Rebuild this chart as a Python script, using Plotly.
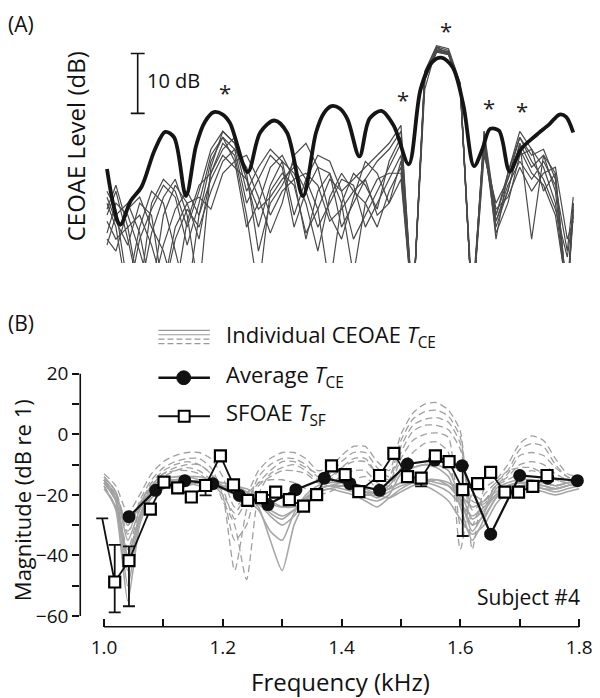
import plotly.graph_objects as go

# The page body has an 8px margin; the figure is sized/offset to compensate.
OFF = 8
W, H = 600 - OFF, 698 - OFF
FONT = "Open Sans"

def PX(x):
    return (x - OFF) / W

def PY(y):
    return 1 - (y - OFF) / H

# ---------------- Panel A data (CEOAE level, arbitrary dB offset) ----------------
a_grid = [1.005, 1.02, 1.04, 1.06, 1.08, 1.10, 1.12, 1.14, 1.16, 1.18, 1.20, 1.22, 1.24, 1.26,
          1.28, 1.30, 1.32, 1.34, 1.36, 1.38, 1.40, 1.42, 1.44, 1.46, 1.48, 1.50, 1.52, 1.54,
          1.56, 1.58, 1.60, 1.62, 1.64, 1.66, 1.68, 1.70, 1.72, 1.74, 1.76, 1.78, 1.79]
a_gray_1 = [8, 12, 4, -5, 10, 14, 12, 6, 12, 19, 22, 20, 12, 16, 19, 17, 8, 14, 18, 17, 12, 14, 16, 18, 20, 23, -8, 29, 36, 35, 29, -8, 22, 8, 14, 21, 18, 19, 14, -6, 10]
a_gray_2 = [12, 9, -4, 6, 12, 10, 2, -6, 8, 17, 21, 19, 10, 14, 18, 16, 6, 12, 16, 15, 6, 10, 14, 17, 19, 22, -8, 31.5, 35.8, 35.2, 29.5, -8, 21, 6, 12, 20, 4, 18, 12, -6, 9]
a_gray_3 = [5, 10, 8, 2, -5, 8, 13, 10, 4, 15, 20, 18, 8, -5, 12, 15, 13, 5, 9, 14, 12, 4, 8, 12, 16, 20, -8, 31, 35.5, 35, 29, -6, 20, 5, 10, 18, 19, 16, 10, -6, 8]
a_gray_4 = [10, 6, -6, 4, 9, 13, 11, 3, 10, 18, 21, 17, 6, 10, 16, 18, 14, 4, 12, 15, 10, -2, 10, 14, 15, 15, -8, 30.5, 35.2, 34.8, 29, -8, 19, 7, 13, 17, 14, 17, 13, 2, 11]
a_gray_5 = [3, 8, 10, 5, -5, 3, 9, 12, 8, 14, 18, 16, 14, 9, 11, 14, 16, 12, 6, 10, 14, 13, 6, 10, 14, 18, -8, 31, 35.6, 35.3, 29.5, -8, 20, 9, 11, 16, 12, 15, 16, 4, 7]
a_gray_6 = [7, 4, 6, -5, 5, 11, 14, 8, -5, 16, 22, 20, 14, 6, 13, 17, 15, 10, 2, 11, 15, 12, 10, 6, 12, 16, -8, 32, 36.3, 35.8, 30, -8, 22, 4, 15, 22, 19, 12, 15, -6, 9]
a_gray_7 = [9, 13, 6, 8, 3, -4, 6, 10, 11, 9, 15, 17, 18, 14, 8, 12, 14, 15, 13, 7, 9, 12, 14, 8, 10, 14, -8, 30.8, 35.4, 35, 29.2, -8, 18, 10, 14, 19, 15, 13, 8, -5, 10]
a_gray_8 = [4, 2, 9, 11, 6, 2, -5, 7, 13, 15, 19, 21, 15, 2, 10, 13, 17, 14, 9, -4, 10, 15, 13, 9, 17, 21, -8, 31.8, 36.1, 35.5, 29.8, -8, 21, 7, 12, 20, 16, 18, 15, -6, 10]
a_gray_9 = [11, 7, 3, 10, 8, -5, 4, 9, 6, 12, 17, 19, 16, 11, 5, 10, 18, 20, 16, 8, 4, 11, 17, 15, 10, 17, -8, 30.6, 35.3, 34.9, 29, -8, 20, 8, 15, 21, 17, 14, 9, 1, 8]

a_black_x = [1.005, 1.027, 1.045, 1.063, 1.085, 1.103, 1.118, 1.138, 1.155, 1.170, 1.185, 1.200,
             1.212, 1.242, 1.263, 1.287, 1.308, 1.335, 1.357, 1.370, 1.383, 1.397, 1.410, 1.430,
             1.447, 1.467, 1.488, 1.513, 1.533, 1.552, 1.568, 1.587, 1.605, 1.623, 1.637, 1.650,
             1.665, 1.683, 1.702, 1.727, 1.750, 1.767, 1.778, 1.790]
a_black_y = [15.7, 6.4, 10.4, 12.7, 18.8, 21.9, 21.0, 11.2, 19.6, 23.6, 25.2, 24.8,
             23.4, 15.2, 21.8, 23.8, 21.8, 11.2, 21.8, 25.0, 26.2, 25.8, 24.0, 17.8,
             24.1, 25.4, 22.9, 16.5, 29.0, 33.5, 34.3, 32.7, 26.4, 16.2, 19.0, 22.4,
             22.1, 15.3, 19.0, 21.3, 23.2, 24.8, 24.4, 21.8]

a_star_x = [1.203, 1.503, 1.576, 1.648, 1.703]
a_star_y = [28.5, 27.4, 38.9, 26.1, 25.5]

# ---------------- Panel B data ----------------
b_grid = [1.00, 1.02, 1.04, 1.06, 1.08, 1.10, 1.12, 1.14, 1.16, 1.18, 1.20, 1.22, 1.24, 1.26,
          1.28, 1.30, 1.32, 1.34, 1.36, 1.38, 1.40, 1.42, 1.44, 1.46, 1.48, 1.50, 1.52, 1.54,
          1.56, 1.58, 1.60, 1.62, 1.64, 1.66, 1.68, 1.70, 1.72, 1.74, 1.76, 1.78, 1.80]
b_solid_1 = [-15, -22, -45, -28, -19, -16, -15, -15, -16, -16, -17, -18, -19, -21, -23, -24, -23, -21, -18, -17, -17, -18, -20, -20, -18, -16, -15, -15, -16, -17, -20, -24, -22, -19, -17, -16, -16, -17, -18, -17, -16]
b_solid_2 = [-17, -25, -55, -30, -20, -17, -16, -16, -15, -15, -16, -17, -19, -22, -26, -28, -25, -21, -18, -17, -16, -17, -19, -21, -19, -17, -16, -16, -15, -16, -19, -28, -25, -20, -17, -16, -17, -18, -19, -18, -17]
b_solid_3 = [-14, -19, -35, -25, -18, -15, -14, -14, -15, -16, -18, -20, -22, -25, -32, -35, -26, -20, -17, -16, -16, -18, -21, -22, -20, -13, -11, -10, -10, -12, -21, -32, -26, -18, -16, -15, -15, -16, -17, -16, -15]
b_solid_4 = [-16, -21, -40, -27, -19, -16, -15, -16, -17, -18, -18, -19, -20, -24, -35, -45, -30, -22, -18, -17, -18, -19, -20, -19, -17, -12, -11, -10, -11, -14, -24, -35, -28, -21, -18, -17, -17, -18, -18, -17, -16]
b_solid_5 = [-18, -24, -50, -29, -21, -18, -17, -17, -16, -16, -16, -17, -18, -20, -22, -24, -24, -22, -19, -18, -17, -17, -18, -20, -21, -19, -17, -16, -17, -19, -23, -27, -24, -20, -18, -17, -18, -19, -20, -19, -18]
b_solid_6 = [-15, -20, -30, -23, -17, -15, -14, -14, -14, -15, -17, -19, -21, -23, -27, -30, -27, -22, -19, -18, -19, -20, -22, -24, -21, -18, -16, -15, -15, -17, -22, -30, -27, -21, -17, -16, -16, -16, -17, -16, -15]
b_solid_7 = [-16, -22, -42, -27, -19, -16, -15, -15, -16, -17, -17, -18, -20, -22, -25, -27, -25, -21, -18, -17, -17, -18, -19, -19, -18, -16, -16, -17, -19, -22, -28, -33, -30, -23, -19, -17, -17, -17, -18, -17, -16]
b_dash_1 = [-13, -17, -26, -20, -13, -9, -7, -6, -6, -8, -14, -24, -20, -12, -8, -6, -6, -8, -12, -11, -7, -4, -4, -9, -12, 0, 7, 10, 10.5, 8, 1, -38, -18, -15, -10, -3, -0.5, -2, -8, -13, -14]
b_dash_2 = [-15, -20, -33, -22, -15, -11, -9, -8, -8, -11, -20, -45, -25, -14, -10, -8, -8, -10, -14, -13, -9, -6, -6, -11, -14, -2, 5, 7.5, 8, 6, -1, -30, -20, -16, -12, -5, -3, -4, -10, -14, -15]
b_dash_3 = [-16, -22, -38, -25, -17, -13, -11, -10, -10, -13, -22, -30, -48, -20, -13, -11, -10, -12, -15, -15, -11, -8, -8, -13, -15, -4, 3, 5, 5.5, 4, -3, -25, -22, -17, -13, -7, -6, -7, -11, -14, -15]
b_dash_4 = [-14, -19, -30, -23, -16, -12, -10, -9, -10, -13, -18, -28, -22, -16, -12, -9, -9, -11, -13, -14, -11, -9, -9, -13, -16, -6, 1, 3, 3, 1.5, -5, -22, -23, -17, -14, -10, -9, -10, -13, -15, -16]
b_dash_5 = [-17, -24, -40, -27, -18, -14, -12, -11, -12, -15, -20, -35, -30, -17, -14, -12, -12, -13, -16, -16, -14, -12, -12, -16, -17, -8, -2, 0, 0.5, -1, -30, -20, -22, -17, -15, -13, -12, -13, -15, -16, -16]
b_dash_6 = [-15, -21, -32, -24, -17, -13, -12, -12, -13, -16, -20, -26, -20, -16, -15, -15, -16, -18, -20, -19, -17, -15, -14, -18, -18, -11, -6, -3, -2.5, -6, -38, -20, -24, -16, -12, -11, -11, -13, -15, -16, -17]

avg_x = [1.042, 1.087, 1.136, 1.183, 1.228, 1.276, 1.323, 1.371, 1.414, 1.464, 1.511, 1.557,
         1.603, 1.651, 1.700, 1.747, 1.797]
avg_y = [-27.2, -18.5, -15.3, -16.3, -20.2, -23.2, -18.3, -14.5, -16.3, -18.5, -9.8, -8.5,
         -10.4, -33.0, -13.6, -14.5, -15.3]

sf_x = [0.997, 1.018, 1.042, 1.078, 1.101, 1.124, 1.147, 1.171, 1.196, 1.218, 1.242, 1.265,
        1.289, 1.312, 1.336, 1.358, 1.383, 1.406, 1.429, 1.464, 1.488, 1.511, 1.534, 1.558,
        1.581, 1.604, 1.629, 1.651, 1.675, 1.698, 1.722, 1.746]
sf_y = [-27.8, -48.8, -41.7, -24.7, -15.8, -17.7, -20.7, -16.9, -7.1, -16.7, -21.8, -20.9,
        -19.1, -21.6, -23.7, -19.9, -10.4, -13.3, -18.9, -13.6, -6.3, -14.0, -14.5, -7.1,
        -9.0, -18.3, -16.3, -12.6, -19.1, -19.1, -17.2, -13.6]
sf_err_plus = [0, 12.3, 4.7, 0, 0, 0, 0, 0, 0, 0, 0, 0, 0, 0, 0, 0, 0, 0, 0, 0, 0, 0, 0, 0,
               0, 8.0, 0, 0, 0, 0, 0, 0]
sf_err_minus = [0, 10.0, 15.1, 0, 0, 0, 0, 3.3, 0, 0, 0, 0, 0, 0, 0, 0, 0, 0, 0, 0, 0, 0, 2.7, 0,
                0, 15.3, 0, 0, 0, 0, 0, 0]

x_ticks = [1.0, 1.2, 1.4, 1.6, 1.8]
x_tick_labels = ["1.0", "1.2", "1.4", "1.6", "1.8"]
x_minor = [1.1, 1.3, 1.5, 1.7]
y_ticks = [-60, -40, -20, 0, 20]
y_tick_labels = ["\u221260", "\u221240", "\u221220", "0", "20"]
y_minor = [-50, -30, -10, 10]

fig = go.Figure()

# Panel A traces
for g in [a_gray_1, a_gray_2, a_gray_3, a_gray_4, a_gray_5, a_gray_6, a_gray_7, a_gray_8, a_gray_9]:
    fig.add_trace(go.Scatter(x=a_grid, y=g, mode="lines", xaxis="x2", yaxis="y2",
                             line=dict(color="#4a4a4a", width=1.2), showlegend=False, hoverinfo="skip"))
fig.add_trace(go.Scatter(x=a_black_x, y=a_black_y, mode="lines", xaxis="x2", yaxis="y2",
                         line=dict(color="#151515", width=3.8, shape="spline", smoothing=0.9),
                         showlegend=False, hoverinfo="skip"))

# Panel B gray lines
for s in [b_solid_1, b_solid_2, b_solid_3, b_solid_4, b_solid_5, b_solid_6, b_solid_7]:
    fig.add_trace(go.Scatter(x=b_grid, y=s, mode="lines",
                             line=dict(color="#a6a6a6", width=1.6, shape="spline", smoothing=0.6),
                             showlegend=False, hoverinfo="skip"))
for d in [b_dash_1, b_dash_2, b_dash_3, b_dash_4, b_dash_5, b_dash_6]:
    fig.add_trace(go.Scatter(x=b_grid, y=d, mode="lines",
                             line=dict(color="#a0a0a0", width=1.3, dash="7px,4px", shape="spline", smoothing=0.6),
                             showlegend=False, hoverinfo="skip"))

fig.add_trace(go.Scatter(x=avg_x, y=avg_y, mode="lines+markers",
                         line=dict(color="#111", width=2.2),
                         marker=dict(symbol="circle", size=13, color="#111", opacity=1),
                         showlegend=False, hoverinfo="skip", cliponaxis=False))
sf_sizes = [0] + [11] * (len(sf_x) - 1)
fig.add_trace(go.Scatter(x=sf_x, y=sf_y, mode="lines+markers",
                         line=dict(color="#111", width=1.8),
                         marker=dict(symbol="square", size=sf_sizes, color="white", opacity=1,
                                     line=dict(color="#000", width=2.2)),
                         error_y=dict(type="data", symmetric=False, array=sf_err_plus,
                                      arrayminus=sf_err_minus, color="#111", thickness=1.8, width=6),
                         showlegend=False, hoverinfo="skip", cliponaxis=False))

# axes geometry (pixels in the 600x698 page)
bx0, bx1 = 81, 592
by0, by1 = 365, 628
ax0, ax1 = 105, 585
ay0, ay1 = 17.6, 260

fig.update_layout(
    width=W, height=H, margin=dict(l=0, r=0, t=0, b=0),
    paper_bgcolor="white", plot_bgcolor="rgba(0,0,0,0)",
    font=dict(family=FONT, color="#111"),
    xaxis=dict(domain=[PX(bx0), PX(bx1)], range=[0.96, 1.8117], showline=False, showgrid=False,
               zeroline=False, tickmode="array", tickvals=x_ticks, ticktext=x_tick_labels,
               ticks="inside", ticklen=8, tickwidth=1.6, tickcolor="#111", ticklabelstandoff=7,
               tickfont=dict(family=FONT, size=19, color="#111"),
               minor=dict(tickmode="array", tickvals=x_minor, ticks="inside", ticklen=8,
                          tickwidth=1.6, tickcolor="#111", showgrid=False),
               anchor="y"),
    yaxis=dict(domain=[PY(by1), PY(by0)], range=[-63.6, 22.3], showline=False, showgrid=False,
               zeroline=False, tickmode="array", tickvals=y_ticks, ticktext=y_tick_labels,
               ticks="outside", ticklen=7, tickwidth=1.6, tickcolor="#111",
               tickfont=dict(family=FONT, size=19, color="#111"),
               minor=dict(tickmode="array", tickvals=y_minor, ticks="outside", ticklen=7,
                          tickwidth=1.6, tickcolor="#111", showgrid=False),
               anchor="x"),
    xaxis2=dict(domain=[PX(ax0), PX(ax1)], range=[1.0, 1.8], visible=False, anchor="y2"),
    yaxis2=dict(domain=[PY(ay1), PY(ay0)], range=[0, 40], visible=False, anchor="x2"),
)

shapes = []
# panel B axis lines
shapes.append(dict(type="line", xref="x domain", yref="y", x0=0, x1=0, y0=-60, y1=20,
                   line=dict(color="#111", width=1.6)))
shapes.append(dict(type="line", xref="x", yref="y domain", x0=1.0, x1=1.8, y0=0, y1=0,
                   line=dict(color="#111", width=1.6)))
# panel A scale bar (10 dB)
shapes.append(dict(type="line", xref="x2", yref="y2", x0=1.0567, x1=1.0567, y0=25.0, y1=35.0,
                   line=dict(color="#111", width=1.6)))
for yv in [25.0, 35.0]:
    shapes.append(dict(type="line", xref="x2", yref="y2", x0=1.0450, x1=1.0684, y0=yv, y1=yv,
                       line=dict(color="#111", width=1.6)))
# legend samples
for yy in [328, 332.5]:
    shapes.append(dict(type="line", xref="paper", yref="paper", x0=PX(160), x1=PX(212),
                       y0=PY(yy), y1=PY(yy), line=dict(color="#999", width=1.2)))
for yy in [337, 341.5]:
    shapes.append(dict(type="line", xref="paper", yref="paper", x0=PX(160), x1=PX(212),
                       y0=PY(yy), y1=PY(yy), line=dict(color="#999", width=1.2, dash="6px,3px")))
shapes.append(dict(type="line", xref="paper", yref="paper", x0=PX(160), x1=PX(212),
                   y0=PY(376), y1=PY(376), line=dict(color="#111", width=2.4)))
shapes.append(dict(type="circle", xref="paper", yref="paper", x0=PX(178.5), x1=PX(192.5),
                   y0=PY(383), y1=PY(369), fillcolor="#111", line=dict(color="#111", width=1)))
shapes.append(dict(type="line", xref="paper", yref="paper", x0=PX(160), x1=PX(212),
                   y0=PY(415), y1=PY(415), line=dict(color="#111", width=2.0)))
shapes.append(dict(type="rect", xref="paper", yref="paper", x0=PX(180.5), x1=PX(191.5),
                   y0=PY(420.5), y1=PY(409.5), fillcolor="white", line=dict(color="#000", width=2.0)))
fig.update_layout(shapes=shapes)

ann = []
def add_text(x, y, text, size, xanchor="left", angle=0, yanchor="middle"):
    ann.append(dict(x=PX(x), y=PY(y), xref="paper", yref="paper", text=text, showarrow=False,
                    xanchor=xanchor, yanchor=yanchor, textangle=angle,
                    font=dict(family=FONT, size=size, color="#111")))

def add_data_text(x, y, text, size):
    ann.append(dict(x=x, y=y, xref="x2", yref="y2", text=text, showarrow=False,
                    xanchor="center", yanchor="middle",
                    font=dict(family=FONT, size=size, color="#222")))

for sx, sy in zip(a_star_x, a_star_y):
    add_data_text(sx, sy, "*", 22)

add_text(6, 18, "(A)", 21)
add_text(6, 321, "(B)", 21)
add_text(76.5, 142, "CEOAE Level (dB)", 24, xanchor="center", angle=-90)
add_text(146, 75, "10 dB", 20)
add_text(22, 500, "Magnitude (dB re 1)", 22, xanchor="center", angle=-90)
add_text(343.5, 683, "Frequency (kHz)", 24, xanchor="center")
add_text(226, 334, "Individual CEOAE <i>T</i><sub>CE</sub>", 22)
add_text(226, 374, "Average <i>T</i><sub>CE</sub>", 22)
add_text(226, 413, "SFOAE <i>T</i><sub>SF</sub>", 22)
add_text(588, 598, "Subject #4", 21, xanchor="right")
fig.update_layout(annotations=ann)

fig.write_html("out.html")
